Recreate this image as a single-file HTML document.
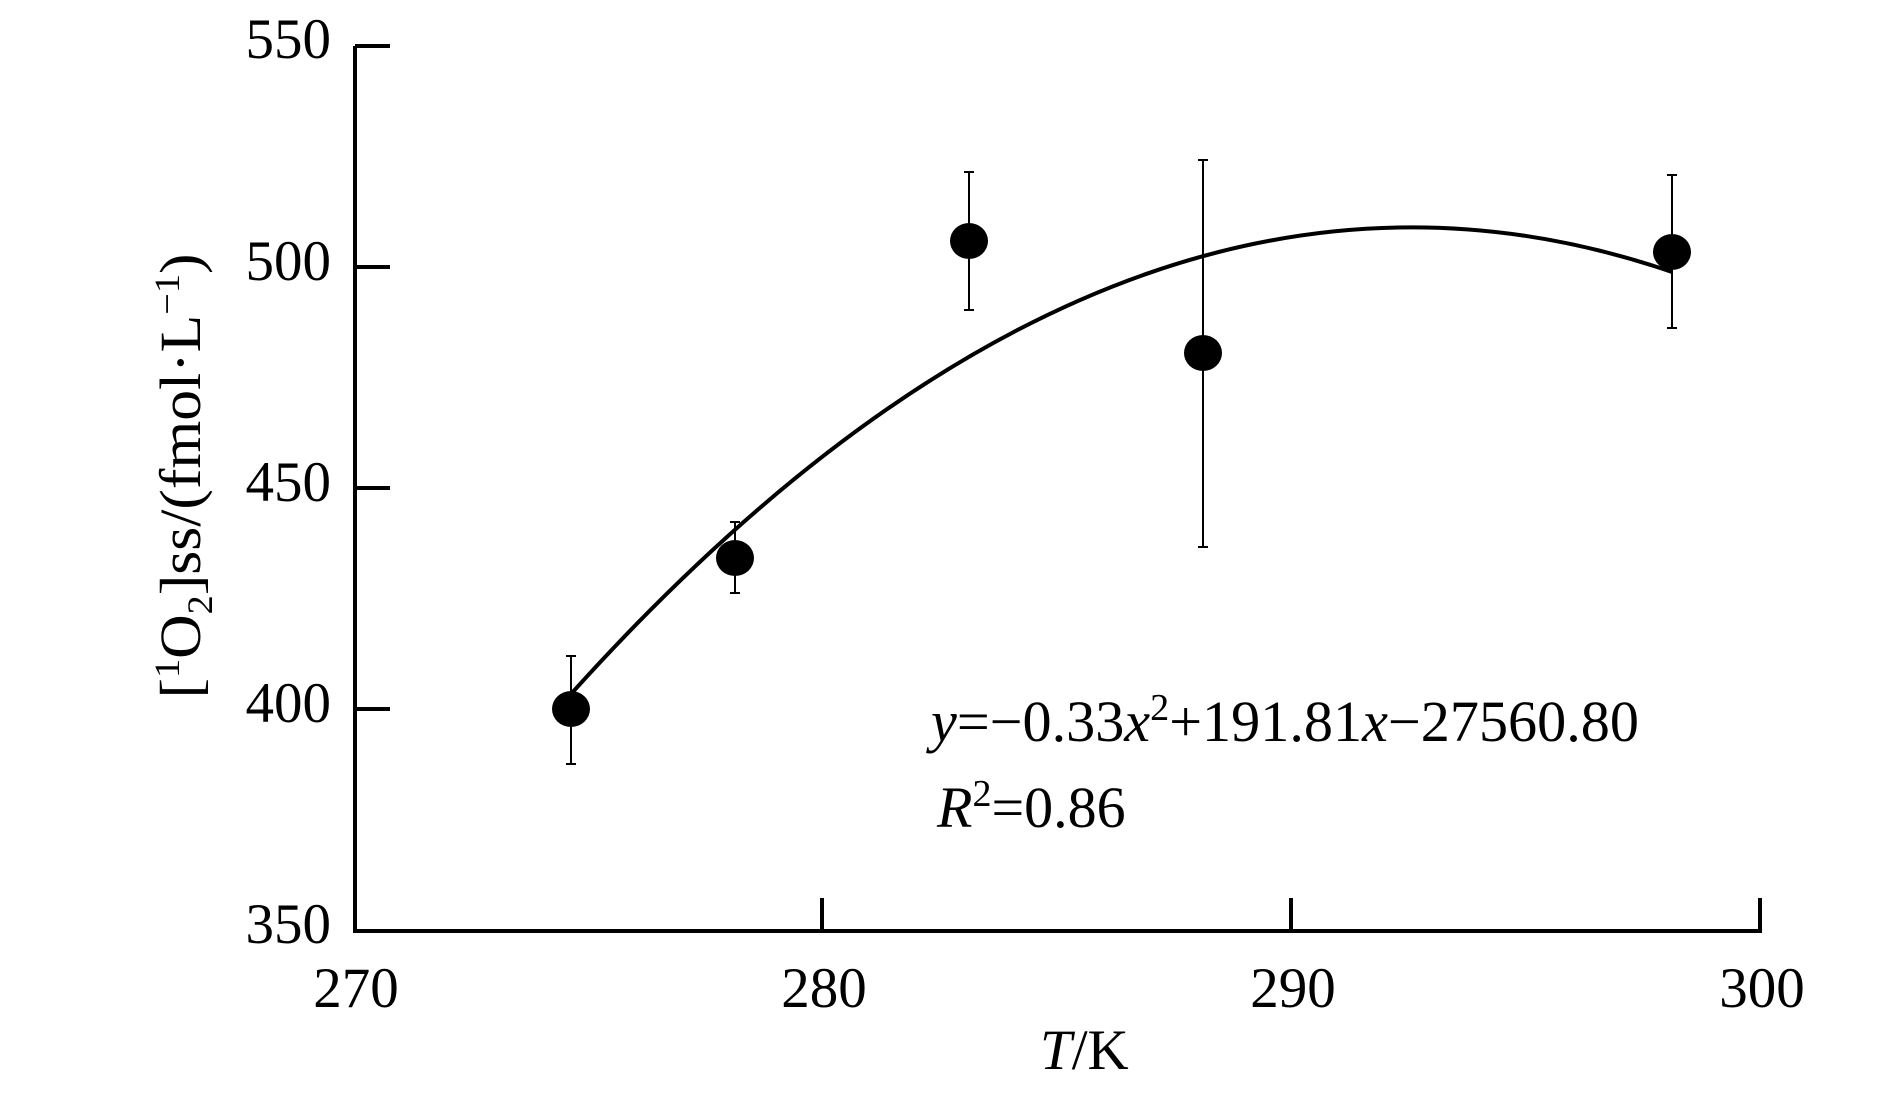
<!DOCTYPE html>
<html><head><meta charset="utf-8"><style>
html,body{margin:0;padding:0;background:#fff;}
svg{display:block;}
text{font-family:"Liberation Serif",serif;fill:#000;}
</style></head><body>
<svg width="1887" height="1109" viewBox="0 0 1887 1109" xmlns="http://www.w3.org/2000/svg">
<g stroke="#000" stroke-width="4" fill="none">
<path d="M355 46 V931 H1760 V898"/>
<path d="M355 46 H390 M355 267 H390 M355 488 H390 M355 709 H390"/>
<path d="M822 931 V898 M1291 931 V898"/>
</g>
<g font-size="57" text-anchor="end">
<text x="331" y="58">550</text>
<text x="331" y="280">500</text>
<text x="331" y="501">450</text>
<text x="331" y="722">400</text>
<text x="331" y="943">350</text>
</g>
<g font-size="57" text-anchor="middle">
<text x="356" y="1007">270</text>
<text x="824" y="1007">280</text>
<text x="1293" y="1007">290</text>
<text x="1762" y="1007">300</text>
</g>
<text x="1040" y="1069" font-size="57"><tspan font-style="italic">T</tspan>/K</text>
<text transform="translate(200,476) rotate(-90)" font-size="58" text-anchor="middle" textLength="445" lengthAdjust="spacingAndGlyphs">[<tspan font-size="36" dy="-21">1</tspan><tspan dy="21">O</tspan><tspan font-size="36" dy="12">2</tspan><tspan dy="-12">]ss/(fmol·L</tspan><tspan font-size="36" dy="-21">−1</tspan><tspan dy="21">)</tspan></text>
<text x="931" y="741" font-size="58" textLength="708" lengthAdjust="spacingAndGlyphs"><tspan font-style="italic">y</tspan>=−0.33<tspan font-style="italic">x</tspan><tspan font-size="38" dy="-21">2</tspan><tspan dy="21">+191.81</tspan><tspan font-style="italic">x</tspan>−27560.80</text>
<text x="937" y="827" font-size="58"><tspan font-style="italic">R</tspan><tspan font-size="38" dy="-21">2</tspan><tspan dy="21">=0.86</tspan></text>
<path d="M571 694 Q1121.5 83 1672 272" stroke="#000" stroke-width="4" fill="none"/>
<g stroke="#000" stroke-width="2">
<path d="M571 656 V764 M566 656 H576 M566 764 H576"/>
<path d="M735 522 V593 M730 522 H740 M730 593 H740"/>
<path d="M969 172 V310 M964 172 H974 M964 310 H974"/>
<path d="M1203 160 V547 M1198 160 H1208 M1198 547 H1208"/>
<path d="M1672 175 V328 M1667 175 H1677 M1667 328 H1677"/>
</g>
<g fill="#000">
<ellipse cx="571" cy="709" rx="19" ry="18"/>
<ellipse cx="735" cy="558" rx="19" ry="18"/>
<ellipse cx="969" cy="241" rx="19" ry="18"/>
<ellipse cx="1203" cy="353" rx="19" ry="18"/>
<ellipse cx="1672" cy="252" rx="19" ry="18"/>
</g>
</svg>
</body></html>
